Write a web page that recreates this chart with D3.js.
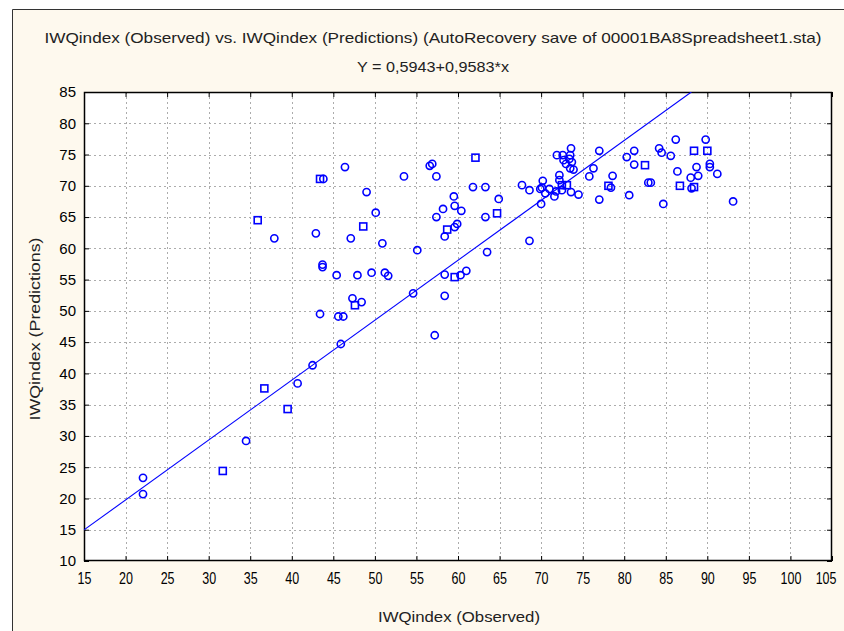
<!DOCTYPE html>
<html><head><meta charset="utf-8">
<script src="https://cdn.jsdelivr.net/npm/d3@7/dist/d3.min.js"></script>
<style>body{margin:0;background:#fff}svg{display:block}</style>
</head><body>
<script>
const titleText = "IWQindex (Observed) vs. IWQindex (Predictions) (AutoRecovery save of 00001BA8Spreadsheet1.sta)";
const subtitleText = "Y = 0,5943+0,9583*x";
const xLabel = "IWQindex (Observed)";
const yLabel = "IWQindex (Predictions)";
const xTicks = [15,20,25,30,35,40,45,50,55,60,65,70,75,80,85,90,95,100,105];
const yTicks = [10,15,20,25,30,35,40,45,50,55,60,65,70,75,80,85];
const intercept = 0.5943, slope = 0.9583;
// observed, predicted, marker (c circle, s square)
const obsX = [22.1,22.1,31.7,34.5,36.7,39.5,40.7,42.5,45.9,57.2,43.4,45.6,46.2,47.3,47.6,48.4,54.6,58.4,43.7,43.7,45.4,47.9,49.6,51.2,51.6,58.4,59.6,60.3,61.0,55.1,63.5,68.6,35.9,37.9,42.9,47.1,50.9,48.6,50.1,49.0,43.4,43.8,46.4,53.5,56.6,56.9,57.4,57.4,58.2,58.4,58.7,59.6,59.9,59.6,59.5,60.4,62.1,61.8,63.3,63.3,64.9,64.7,67.7,68.6,70.0,70.2,70.1,70.5,71.0,71.6,71.8,72.2,72.2,72.5,73.1,72.5,73.6,74.5,71.9,72.6,73.6,73.5,73.4,72.7,73.0,73.7,73.5,73.9,76.3,75.8,77.0,77.0,78.1,78.4,78.6,80.6,80.3,81.2,81.2,82.5,82.9,83.2,84.7,84.2,84.5,85.6,86.2,86.4,86.7,88.4,90.0,89.8,90.3,90.3,91.2,88.7,88.0,88.9,88.1,88.4,93.1,69.9];
const predY = [23.3,20.7,24.4,29.2,37.6,34.3,38.4,41.3,44.7,46.1,49.5,49.1,49.1,52.0,50.9,51.4,52.8,52.4,57.4,57.0,55.7,55.7,56.1,56.1,55.6,55.8,55.4,55.7,56.4,59.7,59.4,61.2,64.5,61.6,62.4,61.6,60.8,63.5,65.7,69.0,71.1,71.1,73.0,71.5,73.2,73.5,71.5,65.0,66.3,61.9,63.0,63.4,63.9,66.8,68.3,66.0,74.5,69.8,69.8,65.0,67.9,65.6,70.1,69.3,67.1,70.8,69.7,68.8,69.5,68.3,69.1,71.7,70.9,70.1,70.1,69.3,69.0,68.6,74.9,74.9,76.0,74.9,74.3,74.1,73.5,73.8,72.8,72.6,72.8,71.5,75.6,67.8,70.0,69.7,71.6,68.5,74.6,75.6,73.4,73.3,70.5,70.5,67.1,76.0,75.3,74.8,77.4,72.3,70.0,75.6,75.6,77.4,73.5,73.0,71.9,73.0,71.3,71.6,69.6,69.8,67.5,69.5];
const marker = ["c","c","s","c","s","s","c","c","c","c","c","c","c","c","s","c","c","c","c","c","c","c","c","c","c","c","s","c","c","c","c","c","s","c","c","c","c","s","c","c","s","c","c","c","c","c","c","c","c","c","s","c","c","c","c","c","s","c","c","c","c","s","c","c","c","c","c","c","c","c","c","c","c","s","s","c","c","c","c","c","c","c","c","c","c","c","c","c","c","c","c","c","s","c","c","c","c","c","c","s","c","c","c","c","c","c","c","c","s","s","s","c","c","c","c","c","c","c","c","s","c","c"];

const W = 844, H = 631;
const svg = d3.select("body").append("svg").attr("width", W).attr("height", H);
const blue = "#0000ff";
const font = "'Liberation Sans', Arial, sans-serif";

svg.append("rect").attr("x",0).attr("y",0).attr("width",W).attr("height",H).attr("fill","#ffffff");
svg.append("rect").attr("x",12).attr("y",9).attr("width",W).attr("height",H).attr("fill","#fef9ee");
svg.append("path").attr("d","M12.5," + H + "V9.5H" + W).attr("fill","none").attr("stroke","#333").attr("stroke-width",1);

const m = {l:84, r:832, t:92, b:561};
const x = d3.scaleLinear().domain([15,105]).range([m.l, m.r]);
const y = d3.scaleLinear().domain([10,85]).range([m.b, m.t]);

svg.append("rect").attr("x",m.l).attr("y",m.t).attr("width",m.r-m.l).attr("height",m.b-m.t).attr("fill","#fff");

const grid = svg.append("g").attr("stroke","#acacac").attr("stroke-width",1).attr("stroke-dasharray","2,3");
xTicks.slice(1,-1).forEach(v => grid.append("line").attr("x1",Math.round(x(v))+0.5).attr("x2",Math.round(x(v))+0.5).attr("y1",m.t).attr("y2",m.b));
yTicks.slice(1,-1).forEach(v => grid.append("line").attr("y1",Math.round(y(v))+0.5).attr("y2",Math.round(y(v))+0.5).attr("x1",m.l).attr("x2",m.r));

// axes with inward ticks
const tl = 5;
const axB = svg.append("g").attr("transform",`translate(0,${m.b})`).call(d3.axisBottom(x).tickValues(xTicks).tickSizeInner(-tl).tickSizeOuter(0).tickPadding(12));
const axT = svg.append("g").attr("transform",`translate(0,${m.t})`).call(d3.axisTop(x).tickValues(xTicks).tickSizeInner(-tl).tickSizeOuter(0).tickFormat(""));
const axL = svg.append("g").attr("transform",`translate(${m.l},0)`).call(d3.axisLeft(y).tickValues(yTicks).tickSizeInner(-tl).tickSizeOuter(0).tickPadding(8));
const axR = svg.append("g").attr("transform",`translate(${m.r},0)`).call(d3.axisRight(y).tickValues(yTicks).tickSizeInner(-tl).tickSizeOuter(0).tickFormat(""));
[axB,axT,axL,axR].forEach(a => { a.select(".domain").remove(); a.selectAll("line").attr("stroke","#000"); });
axB.selectAll("text").attr("font-family",font).attr("font-size",16).attr("fill","#000")
  .each(function(d){
    const w = this.getComputedTextLength();
    const s = d3.select(this).attr("textLength", w*0.78).attr("lengthAdjust","spacingAndGlyphs");
    if (d === 105) s.attr("text-anchor","end").attr("x", 836 - m.r);
  });
axL.selectAll("text").attr("font-family",font).attr("font-size",15).attr("fill","#000");

svg.append("rect").attr("x",m.l+0.5).attr("y",m.t+0.5).attr("width",m.r-m.l-1).attr("height",m.b-m.t-1).attr("fill","none").attr("stroke","#000").attr("stroke-width",1.5);

// regression line
svg.append("clipPath").attr("id","pc").append("rect").attr("x",m.l).attr("y",m.t).attr("width",m.r-m.l).attr("height",m.b-m.t);
const xEnd = (85 - intercept)/slope;
svg.append("line").attr("clip-path","url(#pc)")
  .attr("x1",x(15)).attr("y1",y(intercept+slope*15))
  .attr("x2",x(xEnd)).attr("y2",y(85))
  .attr("stroke",blue).attr("stroke-width",1.1);

// points
const pts = obsX.map((v,i)=>({x:v,y:predY[i],m:marker[i]}));
const pg = svg.append("g").attr("fill","none").attr("stroke",blue).attr("stroke-width",1.6);
pts.forEach(p => {
  if (p.m === "s") pg.append("rect").attr("x",x(p.x)-3.5).attr("y",y(p.y)-3.5).attr("width",7).attr("height",7);
  else pg.append("circle").attr("cx",x(p.x)).attr("cy",y(p.y)).attr("r",3.6);
});

// titles
svg.append("text").attr("x",433).attr("y",43).attr("text-anchor","middle").attr("font-family",font).attr("font-size",15).attr("fill","#222")
  .attr("textLength",777).attr("lengthAdjust","spacingAndGlyphs").text(titleText);
svg.append("text").attr("x",433).attr("y",72).attr("text-anchor","middle").attr("font-family",font).attr("font-size",15).attr("fill","#222")
  .attr("textLength",152).attr("lengthAdjust","spacingAndGlyphs").text(subtitleText);
svg.append("text").attr("x",459).attr("y",622).attr("text-anchor","middle").attr("font-family",font).attr("font-size",15).attr("fill","#222")
  .attr("textLength",162).attr("lengthAdjust","spacingAndGlyphs").text(xLabel);
svg.append("text").attr("transform","translate(40,329) rotate(-90)").attr("text-anchor","middle").attr("font-family",font).attr("font-size",15).attr("fill","#222")
  .attr("textLength",183).attr("lengthAdjust","spacingAndGlyphs").text(yLabel);
</script>
</body></html>
